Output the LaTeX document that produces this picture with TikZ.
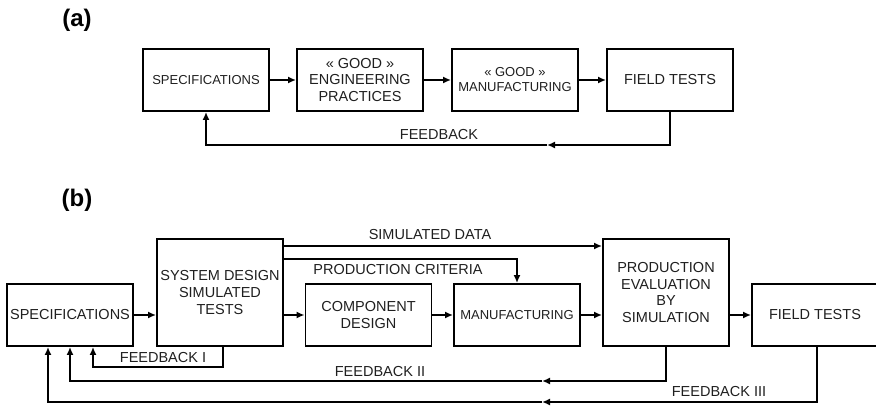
\documentclass[tikz,border=0pt]{standalone}
\usepackage{fontspec}
\setmainfont{Liberation Sans}
\usetikzlibrary{arrows.meta}
\newcommand\fsbig{\fontsize{14.5}{16.7}\selectfont}
\newcommand\fssmall{\fontsize{13}{15}\selectfont}
\begin{document}
\begin{tikzpicture}[x=1pt,y=-1pt,
  box/.style={draw, line width=1.9pt, minimum width=126pt, minimum height=62pt, inner sep=0pt, align=center, font=\fsbig, text=black!88},
  tallbox/.style={box, minimum height=107pt},
  conn/.style={line width=1.9pt, -{Latex[length=8pt,width=7pt]}},
  lbl/.style={inner sep=0pt, font=\fsbig, text=black!88},
  tag/.style={inner sep=0pt, font=\fontsize{24}{26}\selectfont\bfseries}]
\useasboundingbox (0,0) rectangle (876,406);
% (a)
\node[tag] (ta) at (77,20) {(a)};
\node[box, font=\fssmall] (speca) at (206,80) {SPECIFICATIONS};
\node[box] (enga) at (360,80) {« GOOD »\\ENGINEERING\\PRACTICES};
\node[box, font=\fssmall] (mana) at (515,80) {« GOOD »\\MANUFACTURING};
\node[box] (fta) at (670,80) {FIELD TESTS};
\draw[conn] (speca) -- (enga);
\draw[conn] (enga) -- (mana);
\draw[conn] (mana) -- (fta);
\coordinate (fam) at (547,145);
\draw[conn] (fta.south) |- (fam);
\draw[conn] (fam) -| (speca.south);
\node[lbl] (fba) at (439,135) {FEEDBACK};
% (b)
\node[tag] (tb) at (77,200) {(b)};
\node[box] (specb) at (70,315) {SPECIFICATIONS};
\node[tallbox] (sys) at (220,292.5) {SYSTEM DESIGN\\SIMULATED\\TESTS};
\node[box] (comp) at (368.5,315) {COMPONENT\\DESIGN};
\node[box, font=\fssmall] (manb) at (517,315) {MANUFACTURING};
\node[tallbox] (prod) at (666,292.5) {PRODUCTION\\EVALUATION\\BY\\SIMULATION};
\node[box] (ftb) at (815,315) {FIELD TESTS};
\draw[conn] (specb) -- (specb -| sys.west);
\draw[conn] (sys.east |- comp) -- (comp);
\draw[conn] (comp) -- (manb);
\draw[conn] (manb) -- (manb -| prod.west);
\draw[conn] (prod.east |- ftb) -- (ftb);
\coordinate (sdy) at (0,246);
\coordinate (pcy) at (0,259);
\draw[conn] (sys.east |- sdy) -- (prod.west |- sdy);
\draw[conn] (sys.east |- pcy) -| (manb.north);
\node[lbl] (sdl) at (430,235) {SIMULATED DATA};
\node[lbl] (pcl) at (398,270) {PRODUCTION CRITERIA};
% feedback I
\draw[conn] ([xshift=3pt]sys.south) -- ++(0,20) -| ([xshift=23pt]specb.south);
\node[lbl] (f1) at (163,358) {FEEDBACK I};
% feedback II
\coordinate (m2) at (542,381);
\draw[conn] (prod.south) |- (m2);
\draw[conn] (m2) -| (specb.south);
\node[lbl] (f2) at (380,372) {FEEDBACK II};
% feedback III
\coordinate (m3) at (542,402);
\draw[conn] ([xshift=2pt]ftb.south) |- (m3);
\draw[conn] (m3) -| ([xshift=-22pt]specb.south);
\node[lbl] (f3) at (719,392) {FEEDBACK III};
\end{tikzpicture}
\end{document}
